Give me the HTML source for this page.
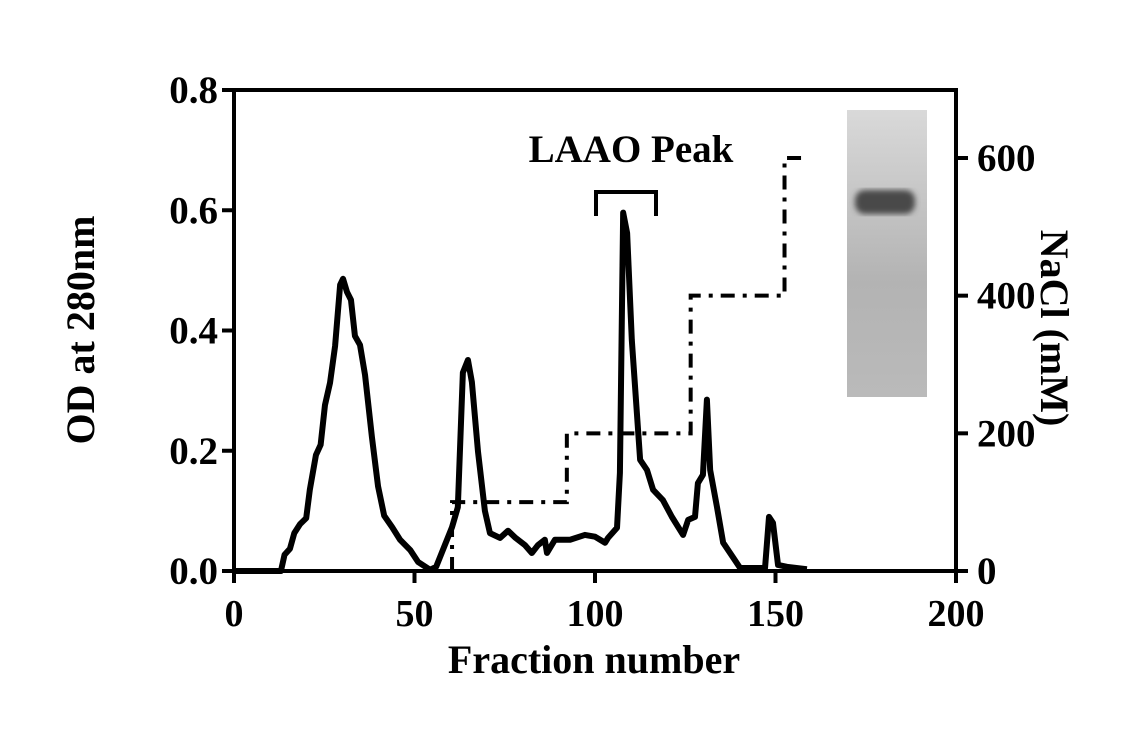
<!DOCTYPE html>
<html><head><meta charset="utf-8"><style>
html,body{margin:0;padding:0;background:#fff;}
svg{display:block;}
text{font-family:"Liberation Serif",serif;font-weight:bold;fill:#000;}
</style></head><body>
<svg id="chart" width="1134" height="738" viewBox="0 0 1134 738" xmlns="http://www.w3.org/2000/svg">
<defs>
<linearGradient id="gelg" x1="0" y1="0" x2="0" y2="1">
<stop offset="0" stop-color="#d9d9d9"/><stop offset="0.3" stop-color="#c6c6c6"/><stop offset="0.6" stop-color="#b3b3b3"/><stop offset="1" stop-color="#bababa"/>
</linearGradient>
<filter id="blur"><feGaussianBlur stdDeviation="3"/></filter>
</defs>
<g id="gel">
<rect x="847" y="110" width="80" height="287" fill="url(#gelg)"/>
<rect x="855" y="190" width="60" height="24" rx="10" fill="#4a4a4a" filter="url(#blur)"/>
</g>
<g id="axes"></g>
<g id="marks"></g>
<text x="631" y="162" font-size="39" text-anchor="middle">LAAO Peak</text>
<path d="M596 216 V192 H656 V216" fill="none" stroke="#000" stroke-width="4"/>
<text x="594" y="673" font-size="40" text-anchor="middle">Fraction number</text>
<text transform="translate(94,330) rotate(-90)" font-size="40" text-anchor="middle">OD at 280nm</text>
<text transform="translate(1041,328) rotate(90)" font-size="40" text-anchor="middle">NaCl (mM)</text>
</svg>
<script>
const fractions=[0,12,13,14,15.5,16.7,18.3,20,21,22.7,24,25.2,26.6,28,29.4,30.2,31.3,32.4,33.5,34.9,36.3,38.2,39.9,41.6,43.8,46,48.8,51,54.3,56,58.4,60.4,62,63.4,64.8,65.9,67.6,69.5,70.9,73.7,75.9,78,80.6,82.5,84.2,86.1,86.7,88.9,93.1,97.2,100,102.8,103.6,106.1,106.9,107.8,108.9,110.2,112.5,114.4,116.1,118.8,121.3,124.4,125.8,127.7,128.5,129.9,131,131.9,133.8,135.5,138.2,140.2,147.1,148.2,149.3,150.7,153.2,158.7];
const odValues=[0,0,0,0.027,0.037,0.063,0.078,0.088,0.135,0.193,0.21,0.276,0.313,0.374,0.476,0.486,0.464,0.451,0.391,0.376,0.326,0.223,0.141,0.092,0.073,0.052,0.035,0.015,0.002,0.007,0.043,0.073,0.106,0.33,0.351,0.314,0.198,0.1,0.063,0.055,0.067,0.055,0.043,0.03,0.043,0.052,0.03,0.052,0.052,0.06,0.057,0.047,0.055,0.072,0.163,0.596,0.562,0.384,0.185,0.168,0.135,0.118,0.09,0.06,0.085,0.09,0.146,0.16,0.285,0.168,0.106,0.047,0.023,0.005,0.005,0.09,0.08,0.01,0.007,0.003];
const saltX=[60.4,60.4,92.2,92.2,126.5,126.5,152.5,152.5,158];
const saltMM=[0,100,100,200,200,400,400,600,600];
const xTicks=[0,50,100,150,200];
const yTicksLeft=[0.0,0.2,0.4,0.6,0.8];
const yTicksRight=[0,200,400,600];

const X0=234,X1=956,Y0=571,Y1=90;
function sx(v){return X0+(v-0)/200*(X1-X0);}
function sy(v){return Y0-v/0.8*(Y0-Y1);}
function sr(v){return Y0-v/600*(Y0-158);}
const NS='http://www.w3.org/2000/svg';
const axes=document.getElementById('axes'),marks=document.getElementById('marks');
function mk(tag,attrs,parent){const e=document.createElementNS(NS,tag);for(const k in attrs)e.setAttribute(k,attrs[k]);parent.appendChild(e);return e;}

const frame=mk('path',{d:`M${X0} ${Y1} V${Y0} H${X1} V${Y1} H${X0}`,fill:'none',stroke:'#000','stroke-width':4},axes);


xTicks.forEach(t=>{
  const l=mk('line',{x1:sx(t),x2:sx(t),y1:Y0,y2:Y0+12,stroke:'#000','stroke-width':4},axes);
  
  
  const tx=mk('text',{x:sx(t),y:Y0+55,'font-size':38,'text-anchor':'middle'},axes);
  tx.textContent=String(t);
  
  
});
yTicksLeft.forEach(t=>{
  const l=mk('line',{x1:X0-12,x2:X0,y1:sy(t),y2:sy(t),stroke:'#000','stroke-width':4},axes);
  
  
  const tx=mk('text',{x:X0-16,y:sy(t)+13,'font-size':39,'text-anchor':'end'},axes);
  tx.textContent=t.toFixed(1);
  
  
});
yTicksRight.forEach(t=>{
  const l=mk('line',{x1:X1,x2:X1+12,y1:sr(t),y2:sr(t),stroke:'#000','stroke-width':4},axes);
  
  
  const tx=mk('text',{x:X1+21,y:sr(t)+13,'font-size':39,'text-anchor':'start'},axes);
  tx.textContent=String(t);
  
  
});
const salt=mk('polyline',{points:saltX.map((v,i)=>sx(v)+','+sr(saltMM[i])).join(' '),fill:'none',stroke:'#000','stroke-width':4,'stroke-dasharray':'14,8,4,8'},marks);


const od=mk('polyline',{points:fractions.map((v,i)=>sx(v)+','+sy(odValues[i])).join(' '),fill:'none',stroke:'#000','stroke-width':6,'stroke-linejoin':'round'},marks);


</script>
</body></html>
